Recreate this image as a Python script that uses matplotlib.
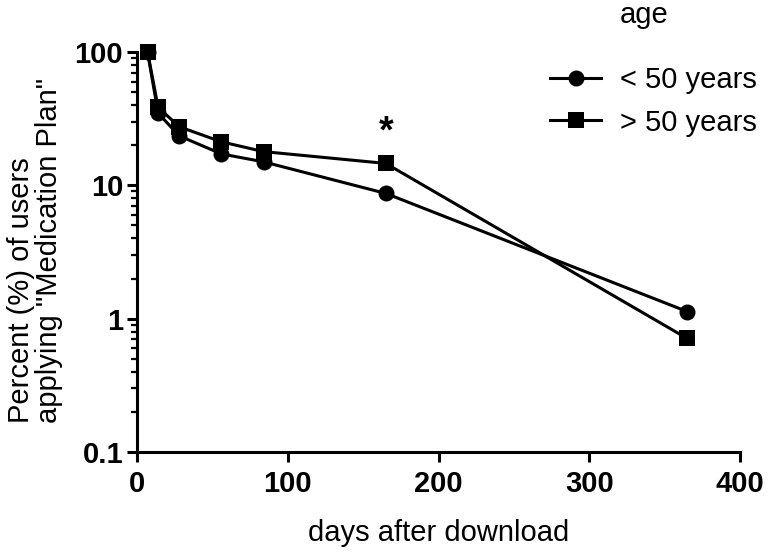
import matplotlib
matplotlib.use('Agg')
import matplotlib.pyplot as plt
from matplotlib.ticker import LogLocator, FixedLocator, NullFormatter, NullLocator

# data
days = [7, 14, 28, 56, 84, 165, 365]
under_50 = [100, 34.8, 23.5, 17.2, 15.0, 8.7, 1.13]
over_50 = [100, 38.5, 27.5, 21.2, 17.9, 14.6, 0.71]
series_labels = ['< 50 years', '> 50 years']
x_ticks = [0, 100, 200, 300, 400]
y_ticks = [0.1, 1, 10, 100]
y_tick_labels = ['0.1', '1', '10', '100']

plt.rcParams['font.family'] = ['Liberation Sans', 'DejaVu Sans']
FS = 21

W, H = 771, 558
fig = plt.figure(figsize=(W / 100, H / 100), dpi=100)
ax = fig.add_axes([137 / W, 1 - 452 / H, (740 - 137) / W, 400 / H])

ax.plot(days, under_50, color='black', lw=2.2, marker='o', ms=11.5, mew=0,
        label=series_labels[0], clip_on=False, zorder=3)
ax.plot(days, over_50, color='black', lw=2.2, marker='s', ms=11.5, mew=0,
        label=series_labels[1], clip_on=False, zorder=4)

# significance mark above the day-165 point
ax.annotate('*', xy=(days[5], over_50[5]), xytext=(0, 22), textcoords='offset points',
            ha='center', va='center', fontsize=27, fontweight='bold')

ax.set_yscale('log')
ax.set_xlim(0, 400)
ax.set_ylim(0.1, 100)
ax.xaxis.set_major_locator(FixedLocator(x_ticks))
ax.xaxis.set_minor_locator(NullLocator())
ax.yaxis.set_major_locator(FixedLocator(y_ticks))
ax.set_yticklabels(y_tick_labels)
ax.yaxis.set_minor_locator(LogLocator(base=10, subs=range(2, 10)))
ax.yaxis.set_minor_formatter(NullFormatter())

for side in ['top', 'right']:
    ax.spines[side].set_visible(False)
for side in ['left', 'bottom']:
    ax.spines[side].set_linewidth(2.2)

ax.tick_params(which='major', direction='out', length=7, width=2.2, pad=3,
               labelsize=FS)
ax.tick_params(axis='x', which='major', pad=6)
ax.tick_params(which='minor', direction='out', length=4, width=1.6)
for lab in ax.get_xticklabels() + ax.get_yticklabels():
    lab.set_fontweight('bold')

ax.set_xlabel('days after download', fontsize=FS, labelpad=15)
fig.text(35 / W, 1 - 423 / H, 'Percent (%) of users\napplying "Medication Plan"',
         rotation=90, ha='center', va='bottom', multialignment='left',
         fontsize=FS, linespacing=1.0)

# legend, with its title drawn apart so it lines up with the labels
fig.text(620 / W, 1 - 15 / H, 'age', ha='left', va='center', fontsize=FS)
fig.legend(loc='upper left', bbox_to_anchor=(550 / W, 1 - 66 / H), frameon=False,
           fontsize=FS, handlelength=1.75, handletextpad=0.65, labelspacing=0.5,
           borderpad=0, borderaxespad=0)

fig.savefig('out.png', dpi=100)
